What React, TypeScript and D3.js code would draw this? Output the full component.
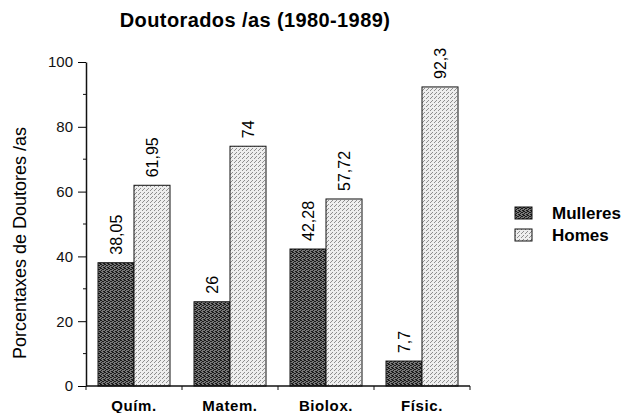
import React, { useEffect, useRef } from 'react';
import * as d3 from 'd3';

const categories = ['Quím.', 'Matem.', 'Biolox.', 'Físic.'];
const series = ['Mulleres', 'Homes'];
const mulleres = [38.05, 26, 42.28, 7.7];
const homes = [61.95, 74, 57.72, 92.3];
const labelsMulleres = ['38,05', '26', '42,28', '7,7'];
const labelsHomes = ['61,95', '74', '57,72', '92,3'];
const yTicks = [0, 20, 40, 60, 80, 100];

export default function App() {
  const ref = useRef<SVGSVGElement>(null);

  useEffect(() => {
    const width = 624;
    const height = 413;
    const margin = { top: 62, left: 86, bottom: 27 };
    const plotRight = 470;
    const font = 'Helvetica, Arial, "Liberation Sans", sans-serif';

    const svg = d3.select(ref.current);
    svg.selectAll('*').remove();
    svg.attr('width', width).attr('height', height).style('font-family', font);

    // textured fills
    const defs = svg.append('defs');
    const dark = defs
      .append('pattern')
      .attr('id', 'pat-dark')
      .attr('width', 4)
      .attr('height', 4)
      .attr('patternUnits', 'userSpaceOnUse');
    dark.append('rect').attr('width', 4).attr('height', 4).attr('fill', '#777');
    [[0, 0], [2, 1], [1, 2], [3, 3], [3, 1], [1, 0], [0, 3]].forEach(([px, py]) =>
      dark.append('rect').attr('x', px).attr('y', py).attr('width', 1).attr('height', 1).attr('fill', '#1a1a1a'),
    );
    const light = defs
      .append('pattern')
      .attr('id', 'pat-light')
      .attr('width', 4)
      .attr('height', 4)
      .attr('patternUnits', 'userSpaceOnUse');
    light.append('rect').attr('width', 4).attr('height', 4).attr('fill', '#eeeeee');
    [[0, 0], [2, 2], [3, 1]].forEach(([px, py]) =>
      light.append('rect').attr('x', px).attr('y', py).attr('width', 1).attr('height', 1).attr('fill', '#8e8e8e'),
    );
    const fills = ['url(#pat-dark)', 'url(#pat-light)'];

    const x0 = d3.scaleBand().domain(categories).range([margin.left, plotRight]).paddingInner(0.25).paddingOuter(0.125);
    const x1 = d3.scaleBand().domain(series).range([0, x0.bandwidth()]);
    const y = d3.scaleLinear().domain([0, 100]).range([height - margin.bottom, margin.top]);

    // title
    svg
      .append('text')
      .attr('x', 255)
      .attr('y', 27)
      .attr('text-anchor', 'middle')
      .attr('font-size', 20)
      .attr('letter-spacing', 0.4)
      .attr('font-weight', 'bold')
      .text('Doutorados /as (1980-1989)');

    // y label
    svg
      .append('text')
      .attr('transform', `translate(26,${243}) rotate(-90)`)
      .attr('text-anchor', 'middle')
      .attr('font-size', 18)
      .text('Porcentaxes de Doutores /as');

    // bars
    const values = [mulleres, homes];
    const labels = [labelsMulleres, labelsHomes];
    series.forEach((s, si) => {
      const g = svg.append('g');
      g.selectAll('rect')
        .data(categories)
        .join('rect')
        .attr('x', (c) => (x0(c) as number) + (x1(s) as number))
        .attr('y', (c, i) => y(values[si][i]))
        .attr('width', x1.bandwidth())
        .attr('height', (c, i) => y(0) - y(values[si][i]))
        .attr('fill', fills[si])
        .attr('stroke', '#111')
        .attr('stroke-width', 1);
      g.selectAll('text')
        .data(categories)
        .join('text')
        .attr('transform', (c, i) => {
          const cx = (x0(c) as number) + (x1(s) as number) + x1.bandwidth() / 2;
          return `translate(${cx + 5.5},${y(values[si][i]) - 8}) rotate(-90)`;
        })
        .attr('font-size', 16)
        .text((c, i) => labels[si][i]);
    });

    // y axis
    const yAxis = d3.axisLeft(y).tickValues(yTicks).tickSize(8).tickSizeOuter(0).tickPadding(5);
    const ya = svg.append('g').attr('transform', `translate(${margin.left},0)`).call(yAxis);
    ya.selectAll('text').attr('font-size', 15).attr('font-family', font).attr('fill', '#111');
    ya.select('.domain').attr('stroke', '#111').attr('stroke-width', 1.5);
    const minor = d3.range(10, 100, 20);
    ya.selectAll('.minor')
      .data(minor)
      .join('line')
      .attr('class', 'minor')
      .attr('x1', -3)
      .attr('x2', 0)
      .attr('y1', (d) => y(d))
      .attr('y2', (d) => y(d))
      .attr('stroke', '#111');

    // x axis
    const xa = svg.append('g').attr('transform', `translate(0,${y(0)})`);
    xa.append('line').attr('x1', margin.left).attr('x2', plotRight).attr('stroke', '#111').attr('stroke-width', 1.5);
    const step = x0.step();
    const bounds = d3.range(categories.length + 1).map((i) => margin.left + i * step);
    xa.selectAll('.xt')
      .data(bounds)
      .join('line')
      .attr('class', 'xt')
      .attr('x1', (d) => d)
      .attr('x2', (d) => d)
      .attr('y1', 0)
      .attr('y2', 4)
      .attr('stroke', '#111');
    xa.selectAll('.xl')
      .data(categories)
      .join('text')
      .attr('class', 'xl')
      .attr('x', (c) => (x0(c) as number) + x0.bandwidth() / 2)
      .attr('y', 25)
      .attr('text-anchor', 'middle')
      .attr('font-size', 15)
      .attr('letter-spacing', 0.6)
      .attr('font-weight', 'bold')
      .text((c) => c);

    // legend
    const lg = svg.append('g').attr('transform', 'translate(515,207)');
    series.forEach((s, i) => {
      lg.append('rect')
        .attr('x', 0)
        .attr('y', i * 22)
        .attr('width', 17)
        .attr('height', 12)
        .attr('fill', fills[i])
        .attr('stroke', '#111');
      lg.append('text')
        .attr('x', 37)
        .attr('y', i * 22 + 12)
        .attr('font-size', 17)
        .attr('font-weight', 'bold')
        .text(s);
    });
  }, []);

  return <svg ref={ref} style={{ position: 'absolute', left: 0, top: 0 }} />;
}
